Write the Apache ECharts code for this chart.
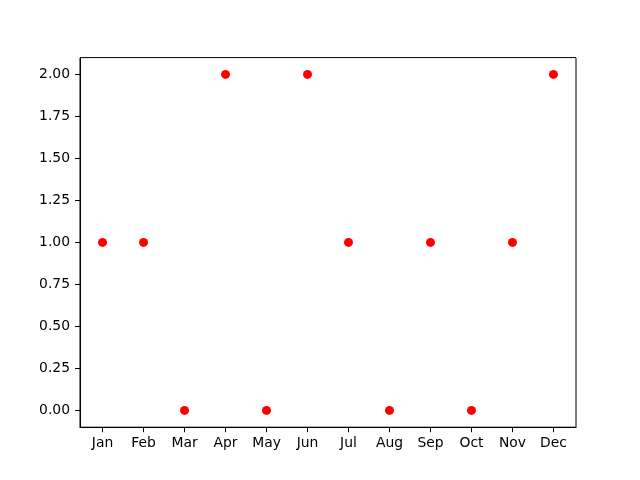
<!DOCTYPE html>
<html>
<head>
<meta charset="utf-8">
<script src="https://cdn.jsdelivr.net/npm/echarts@6/dist/echarts.min.js"></script>
<style>html,body{margin:0;padding:0;background:#fff}#c{width:640px;height:480px}</style>
</head>
<body>
<div id="c"></div>
<script>
const months = ['Jan','Feb','Mar','Apr','May','Jun','Jul','Aug','Sep','Oct','Nov','Dec'];
const values = [1, 1, 0, 2, 0, 2, 1, 0, 1, 0, 1, 2];
const yTicks = [0, 0.25, 0.5, 0.75, 1.0, 1.25, 1.5, 1.75, 2.0];

const chart = echarts.init(document.getElementById('c'), null, {renderer: 'canvas'});
const font = 'DejaVu Sans';
chart.setOption({
  animation: false,
  backgroundColor: '#fff',
  grid: {left: 80, right: 64, top: 57.6, bottom: 52.8, show: true, borderColor: '#000', borderWidth: 1, backgroundColor: 'transparent'},
  xAxis: {
    type: 'value', min: -0.55, max: 11.55,
    axisLine: {show: true, onZero: false, lineStyle: {color: '#000', width: 1}},
    axisTick: {show: true, length: 5, lineStyle: {color: '#000'}, customValues: months.map((m, i) => i)},
    axisLabel: {color: '#000', fontFamily: font, fontSize: 13.9, margin: 9,
      customValues: months.map((m, i) => i), formatter: v => months[Math.round(v)]},
    splitLine: {show: false}
  },
  yAxis: {
    type: 'value', min: -0.1, max: 2.1,
    axisLine: {show: true, onZero: false, lineStyle: {color: '#000', width: 1}},
    axisTick: {show: true, length: 5, lineStyle: {color: '#000'}, customValues: yTicks},
    axisLabel: {color: '#000', fontFamily: font, fontSize: 13.9, margin: 10,
      customValues: yTicks, formatter: v => v.toFixed(2)},
    splitLine: {show: false}
  },
  series: [{
    type: 'scatter',
    symbol: 'circle',
    symbolSize: 9,
    itemStyle: {color: '#ff0000', opacity: 1},
    data: values.map((v, i) => [i, v])
  }]
});
</script>
</body>
</html>
